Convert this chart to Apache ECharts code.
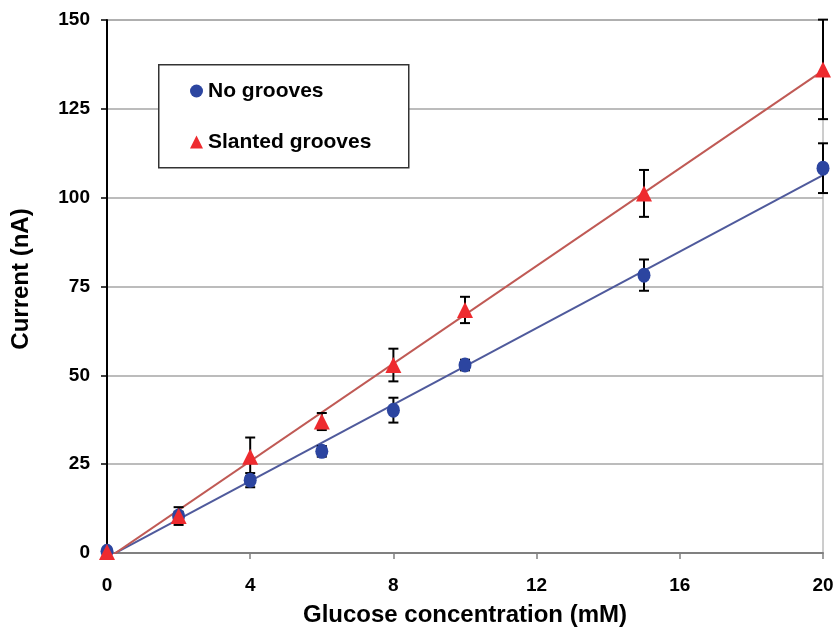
<!DOCTYPE html>
<html>
<head>
<meta charset="utf-8">
<script src="https://cdn.jsdelivr.net/npm/echarts@6/dist/echarts.min.js"></script>
<style>
  html, body { margin: 0; padding: 0; background: #fff; }
  #chart { width: 836px; height: 629px; }
</style>
</head>
<body>
<div id="chart"></div>
<script>
// Glucose concentration (mM)
const concentrations = [0, 2, 4, 6, 8, 10, 15, 20];
// Mean current (nA) and standard deviation for each electrode type
const noGrooves = [0.5, 10.4, 20.5, 28.6, 40.2, 52.9, 78.2, 108.3];
const noGroovesErr = [0.5, 1.2, 2.0, 1.5, 3.5, 1.5, 4.4, 7.0];
const slanted = [0.3, 10.4, 27.1, 37.0, 52.9, 68.4, 101.2, 136.1];
const slantedErr = [0.3, 2.5, 5.4, 2.4, 4.6, 3.7, 6.6, 14.0];
const xTicks = [0, 4, 8, 12, 16, 20];
const yTicks = [0, 25, 50, 75, 100, 125, 150];

// Least-squares linear fit used for the trend lines
function linearFit(xs, ys) {
  const n = xs.length;
  const mx = xs.reduce((a, b) => a + b, 0) / n;
  const my = ys.reduce((a, b) => a + b, 0) / n;
  let sxy = 0, sxx = 0;
  for (let i = 0; i < n; i++) {
    sxy += (xs[i] - mx) * (ys[i] - my);
    sxx += (xs[i] - mx) * (xs[i] - mx);
  }
  const slope = sxy / sxx;
  const icpt = my - slope * mx;
  const x0 = xs[0], x1 = xs[n - 1];
  return [[x0, icpt + slope * x0], [x1, icpt + slope * x1]];
}

function pairs(ys) { return concentrations.map((x, i) => [x, ys[i]]); }
function errData(ys, es) { return concentrations.map((x, i) => [x, ys[i] - es[i], ys[i] + es[i]]); }

function errorBarRender(params, api) {
  const x = api.value(0);
  const lo = api.coord([x, api.value(1)]);
  const hi = api.coord([x, api.value(2)]);
  const cap = 5;
  const style = { stroke: '#000', lineWidth: 2, fill: null };
  return {
    type: 'group',
    children: [
      { type: 'line', shape: { x1: hi[0], y1: hi[1], x2: lo[0], y2: lo[1] }, style },
      { type: 'line', shape: { x1: hi[0] - cap, y1: hi[1], x2: hi[0] + cap, y2: hi[1] }, style },
      { type: 'line', shape: { x1: lo[0] - cap, y1: lo[1], x2: lo[0] + cap, y2: lo[1] }, style }
    ]
  };
}

const font = 'Liberation Sans, Arial, sans-serif';
const chart = echarts.init(document.getElementById('chart'));
chart.setOption({
  animation: false,
  backgroundColor: '#fff',
  grid: { left: 107, right: 13, top: 20, bottom: 76, show: true, borderColor: '#9a9a9a', borderWidth: 1,
    containLabel: false, outerBoundsMode: 'none' },
  graphic: [
    // legend frame
    { type: 'rect', left: 158, top: 64, z: 10,
      shape: { width: 250, height: 103 },
      style: { fill: '#fff', stroke: '#333', lineWidth: 1.5 } },
    // y-axis title
    { type: 'text', x: 21, y: 279, rotation: Math.PI / 2, z: 10,
      style: { text: 'Current (nA)', fontFamily: font, fontWeight: 'bold', fontSize: 24,
        fill: '#000', align: 'center', verticalAlign: 'middle' } }
  ],
  legend: {
    left: 190, top: 80, orient: 'vertical', z: 11,
    data: ['No grooves', 'Slanted grooves'],
    padding: 0, itemGap: 29, itemWidth: 13, itemHeight: 13,
    textStyle: { fontFamily: font, fontWeight: 'bold', fontSize: 21, lineHeight: 22, color: '#000' }
  },
  xAxis: {
    type: 'value', min: 0, max: 20, interval: 4,
    axisLine: { show: true, lineStyle: { color: '#808080', width: 2 } },
    axisTick: { show: true, inside: false, length: 6, lineStyle: { color: '#808080', width: 1.5 } },
    splitLine: { show: false },
    axisLabel: { fontFamily: font, fontWeight: 'bold', fontSize: 19, color: '#000', margin: 23,
      formatter: v => xTicks.includes(v) ? String(v) : '' },
    name: 'Glucose concentration (mM)', nameLocation: 'middle', nameGap: 50,
    nameTextStyle: { fontFamily: font, fontWeight: 'bold', fontSize: 24, color: '#000', verticalAlign: 'top' }
  },
  yAxis: {
    type: 'value', min: 0, max: 150, interval: 25,
    axisLine: { show: true, lineStyle: { color: '#000', width: 2 } },
    axisTick: { show: true, inside: false, length: 6, lineStyle: { color: '#000', width: 1.5 } },
    splitLine: { show: true, lineStyle: { color: '#a6a6a6', width: 1.5 } },
    axisLabel: { fontFamily: font, fontWeight: 'bold', fontSize: 19, color: '#000', margin: 17,
      formatter: v => yTicks.includes(v) ? String(v) : '' }
  },
  series: [
    { name: 'No grooves fit', type: 'line', data: linearFit(concentrations, noGrooves), showSymbol: false,
      lineStyle: { color: '#4f5a9c', width: 2 }, z: 2, silent: true },
    { name: 'Slanted grooves fit', type: 'line', data: linearFit(concentrations, slanted), showSymbol: false,
      lineStyle: { color: '#c05a55', width: 2 }, z: 2, silent: true },
    { name: 'No grooves err', type: 'custom', renderItem: errorBarRender, data: errData(noGrooves, noGroovesErr),
      encode: { x: 0, y: [1, 2] }, z: 3, clip: false },
    { name: 'Slanted grooves err', type: 'custom', renderItem: errorBarRender, data: errData(slanted, slantedErr),
      encode: { x: 0, y: [1, 2] }, z: 3, clip: false },
    { name: 'No grooves', type: 'scatter', data: pairs(noGrooves), symbol: 'circle', symbolSize: [13, 15],
      itemStyle: { color: '#2c45a0', opacity: 1 }, z: 4 },
    { name: 'Slanted grooves', type: 'scatter', data: pairs(slanted), symbol: 'triangle', symbolSize: 16,
      itemStyle: { color: '#ee2b2f', opacity: 1 }, z: 5 }
  ]
});
</script>
</body>
</html>
